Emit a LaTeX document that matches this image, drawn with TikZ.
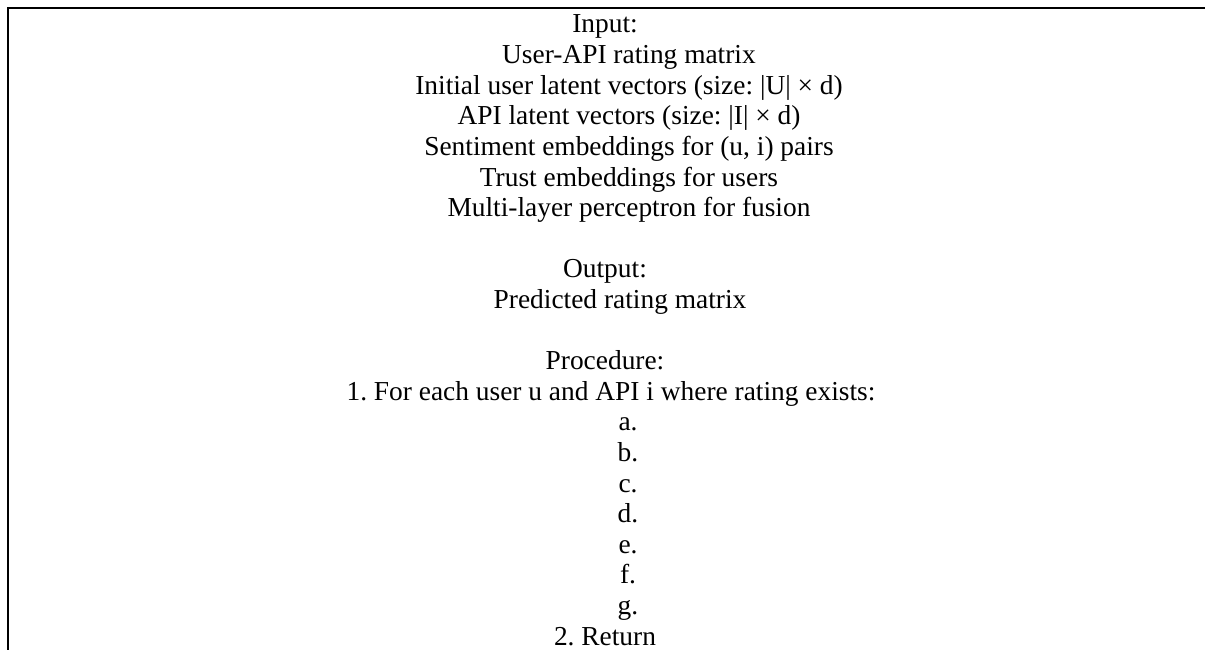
\documentclass[tikz,border=0pt]{standalone}
\usepackage{fontspec}
\setmainfont{Liberation Serif}
\frenchspacing
\begin{document}
\begin{tikzpicture}[x=1pt,y=-1pt,
  line/.style={font=\fontsize{27.4}{30.6}\selectfont, anchor=base, inner sep=0pt},
  frame/.style={line width=2.4pt, line join=miter}]
  \useasboundingbox (0,0) rectangle (1205,650);
  % open frame: left and top rules only
  \coordinate (fbl) at (7.8,650);
  \coordinate (ftl) at (7.8,7.8);
  \coordinate (ftr) at (1205,7.8);
  \draw[frame] (fbl) -- (ftl) -- (ftr);
  % Input block
  \node[line] (in)  at (605,33)   {Input:};
  \node[line] (in1) at (629,63.6) {User-API rating matrix};
  \node[line] (in2) at (629,94.2) {Initial user latent vectors (size: |U| × d)};
  \node[line] (in3) at (629,124.8){API latent vectors (size: |I| × d)};
  \node[line] (in4) at (629,155.4){Sentiment embeddings for (u, i) pairs};
  \node[line] (in5) at (629,186)  {Trust embeddings for users};
  \node[line] (in6) at (629,216.6){Multi-layer perceptron for fusion};
  % Output block
  \node[line] (out)  at (605,277.8){Output:};
  \node[line] (out1) at (620,308.4){Predicted rating matrix};
  % Procedure block
  \node[line] (pr)  at (605,369.6){Procedure:};
  \node[line] (pr1) at (611,400.2){1. For each user u and API i where rating exists:};
  \node[line] (sa)  at (628,430.8){a.};
  \node[line] (sb)  at (628,461.4){b.};
  \node[line] (sc)  at (628,492)  {c.};
  \node[line] (sd)  at (628,522.6){d.};
  \node[line] (se)  at (628,553.2){e.};
  \node[line] (sf)  at (628,583.8){f.};
  \node[line] (sg)  at (628,614.4){g.};
  \node[line] (pr2) at (605,645)  {2. Return};
\end{tikzpicture}
\end{document}
